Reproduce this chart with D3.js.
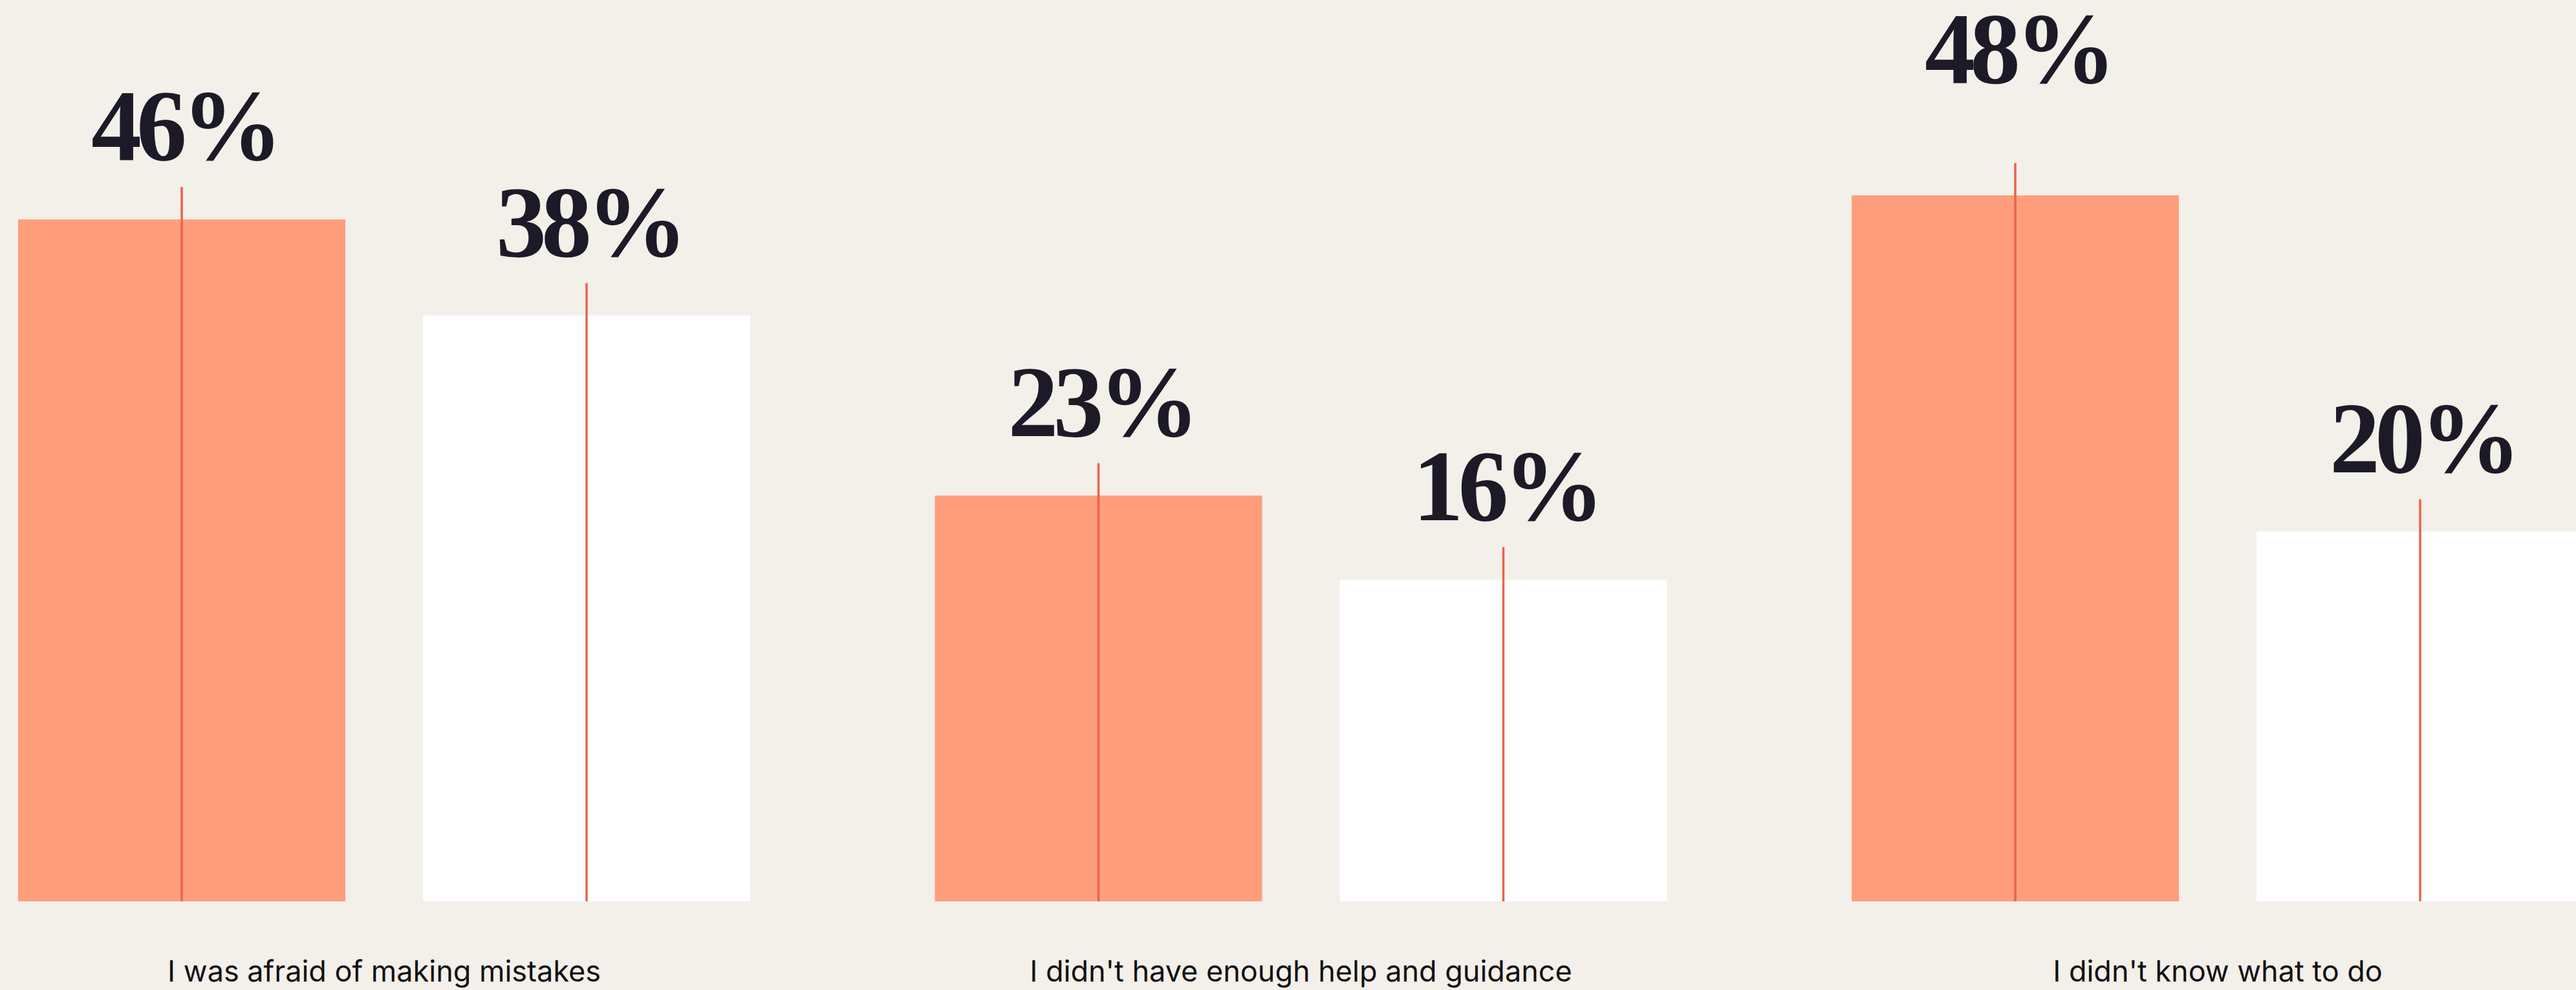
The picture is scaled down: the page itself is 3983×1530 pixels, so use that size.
<!DOCTYPE html>
<html>
<head>
<meta charset="utf-8">
<script src="https://cdn.jsdelivr.net/npm/d3@7"></script>
<style>
  html, body { margin: 0; padding: 0; background: #f3efe9; overflow: hidden; }
  .value { font-family: "Liberation Serif", serif; font-weight: 700; fill: #1d1a28; letter-spacing: -8px; }
  .cat { font-family: Inter, "Noto Sans", sans-serif; fill: #111; }
</style>
</head>
<body>
<svg class="chart"></svg>
<script>

// data
var categories = ["I was afraid of making mistakes",
                  "I didn't have enough help and guidance",
                  "I didn't know what to do"];
var seriesNames = ["first", "second"];
var firstValues  = [46, 23, 48];
var secondValues = [38, 16, 20];
var colors = ["#ff9e7d", "#ffffff"];


var width = 3983, height = 1530;
var baseY = 1393;

var chart = d3.select('.chart')
    .attr('width', width)
    .attr('height', height);

var x0 = d3.scaleBand()
    .domain(categories)
    .range([28, 3995])
    .paddingInner(0.2014)
    .paddingOuter(0);

var x1 = d3.scaleBand()
    .domain(seriesNames)
    .range([0, x0.bandwidth()])
    .paddingInner(0.1917)
    .paddingOuter(0);

var y = d3.scaleLinear()
    .domain([-10.8, 48])
    .range([baseY, 302]);

var color = d3.scaleOrdinal().domain(seriesNames).range(colors);

var rows = categories.map(function(c, i) {
  return { cat: c, vals: [ { key: "first", v: firstValues[i] }, { key: "second", v: secondValues[i] } ] };
});
var maxV = d3.max(firstValues.concat(secondValues));

var groups = chart.selectAll('g.grp')
    .data(rows)
    .enter().append('g')
    .attr('class', 'grp')
    .attr('transform', function(d) { return 'translate(' + x0(d.cat) + ',0)'; });

groups.selectAll('rect')
    .data(function(d) { return d.vals; })
    .enter().append('rect')
    .attr('x', function(d) { return x1(d.key); })
    .attr('y', function(d) { return y(d.v); })
    .attr('width', x1.bandwidth())
    .attr('height', function(d) { return baseY - y(d.v); })
    .attr('fill', function(d) { return color(d.key); });

// red stems
groups.selectAll('line')
    .data(function(d) { return d.vals; })
    .enter().append('line')
    .attr('x1', function(d) { return x1(d.key) + x1.bandwidth() / 2; })
    .attr('x2', function(d) { return x1(d.key) + x1.bandwidth() / 2; })
    .attr('y1', baseY)
    .attr('y2', function(d) { return y(d.v) - 50; })
    .attr('stroke', '#e8654a')
    .attr('stroke-width', 3.5);

// value labels
groups.selectAll('text.value')
    .data(function(d) { return d.vals; })
    .enter().append('text')
    .attr('class', 'value')
    .attr('x', function(d) { return x1(d.key) + x1.bandwidth() / 2 + 4; })
    .attr('y', function(d) { return d.v === maxV ? 128 : y(d.v) - 92; })
    .attr('text-anchor', 'middle')
    .style('font-size', '156px')
    .text(function(d) { return d.v + '%'; });

// category labels
groups.append('text')
    .attr('class', 'cat')
    .attr('x', x0.bandwidth() / 2)
    .attr('y', 1517)
    .attr('text-anchor', 'middle')
    .style('font-size', '45px')
    .text(function(d) { return d.cat; });

</script>
</body>
</html>
